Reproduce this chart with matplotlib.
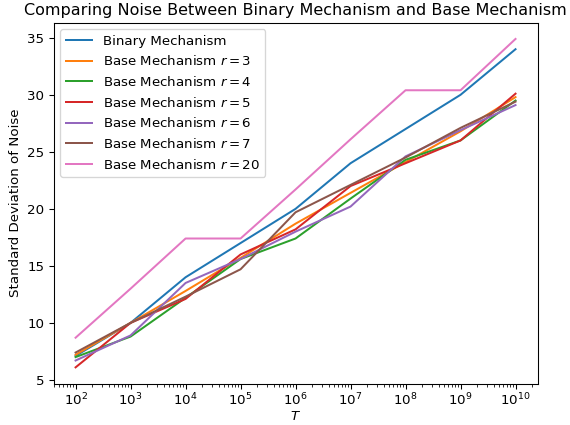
import matplotlib
matplotlib.use("Agg")
import matplotlib.pyplot as plt

T = [1e2, 1e3, 1e4, 1e5, 1e6, 1e7, 1e8, 1e9, 1e10]

binary = [7.1, 10.0, 14.0, 17.0, 20.0, 24.0, 27.0, 30.0, 34.0]
base_r3 = [7.2, 10.0, 12.8, 15.7, 18.7, 21.4, 24.1, 26.8, 29.8]
base_r4 = [7.0, 8.8, 12.2, 15.6, 17.4, 20.9, 24.3, 26.0, 29.5]
base_r5 = [6.1, 10.0, 12.1, 16.0, 18.2, 22.0, 24.0, 26.0, 30.1]
base_r6 = [6.7, 8.9, 13.5, 15.6, 18.0, 20.2, 24.6, 26.9, 29.1]
base_r7 = [7.4, 10.0, 12.3, 14.7, 19.7, 22.1, 24.5, 27.1, 29.4]
base_r20 = [8.7, 13.0, 17.4, 17.4, 21.7, 26.1, 30.4, 30.4, 34.9]

series = [
    ("Binary Mechanism", binary),
    ("Base Mechanism $r = 3$", base_r3),
    ("Base Mechanism $r = 4$", base_r4),
    ("Base Mechanism $r = 5$", base_r5),
    ("Base Mechanism $r = 6$", base_r6),
    ("Base Mechanism $r = 7$", base_r7),
    ("Base Mechanism $r = 20$", base_r20),
]

dpi = 96
fig, ax = plt.subplots(figsize=(570 / dpi, 425 / dpi), dpi=dpi)
fig.subplots_adjust(left=0.094, right=0.943, top=0.947, bottom=0.097)

for label, vals in series:
    ax.plot(T, vals, label=label)

ax.set_xscale("log")
ax.tick_params(axis="x", pad=2.5)
ax.set_xlabel("$T$", labelpad=1)
ax.set_ylabel("Standard Deviation of Noise")
ax.set_title("Comparing Noise Between Binary Mechanism and Base Mechanism")
ax.legend(loc="upper left")

fig.savefig("out.png", dpi=dpi)
